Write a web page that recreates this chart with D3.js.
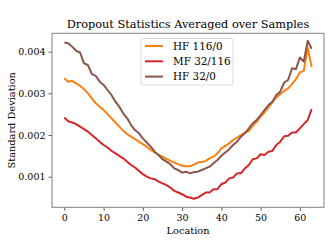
<!DOCTYPE html>
<html><head><meta charset="utf-8">
<script src="https://cdn.jsdelivr.net/npm/d3@7"></script>
<style>html,body{margin:0;padding:0;background:#fff;}svg{display:block;}</style>
</head><body>
<script>
const seriesNames = ["HF 116/0", "MF 32/116", "HF 32/0"];
const seriesColors = ["#ff7f0e", "#d62728", "#8c564b"];
const hf116 = [0.00336,0.00328,0.0033,0.00324,0.00318,0.0031,0.003,0.00288,0.00276,0.00268,0.0026,0.0025,0.0024,0.0023,0.0022,0.0021,0.00202,0.00196,0.0019,0.00184,0.00178,0.00172,0.00164,0.00158,0.00152,0.00148,0.00143,0.00138,0.00134,0.0013,0.00126,0.00125,0.00125,0.00129,0.00134,0.00135,0.00138,0.00144,0.00148,0.00156,0.00168,0.00174,0.0018,0.00188,0.00194,0.002,0.00206,0.0021,0.00222,0.00232,0.00244,0.00254,0.00266,0.00278,0.0029,0.00298,0.00306,0.00312,0.00322,0.00334,0.0035,0.00354,0.0041,0.00363];
const mf32 = [0.00242,0.00233,0.0023,0.00226,0.0022,0.00214,0.00208,0.002,0.00192,0.00184,0.00176,0.0017,0.00162,0.00156,0.0015,0.00144,0.00136,0.00128,0.00122,0.00114,0.00106,0.001,0.00096,0.00094,0.00088,0.00084,0.0008,0.00074,0.00066,0.00062,0.00058,0.00052,0.0005,0.00047,0.0005,0.00056,0.00062,0.00062,0.0007,0.0007,0.00082,0.00086,0.00096,0.00098,0.00108,0.00108,0.0012,0.00128,0.00142,0.00144,0.00154,0.00152,0.0016,0.00162,0.00176,0.00184,0.00197,0.00198,0.00206,0.00206,0.00216,0.00226,0.00236,0.00262];
const hf32 = [0.00422,0.0042,0.00412,0.00402,0.00398,0.00372,0.00368,0.00346,0.00342,0.00328,0.0032,0.00308,0.00296,0.0028,0.00268,0.00252,0.0024,0.00224,0.00212,0.00204,0.00192,0.00182,0.00172,0.0016,0.00152,0.00142,0.00136,0.0013,0.0012,0.00116,0.0011,0.00112,0.00108,0.00111,0.00112,0.00116,0.0012,0.00124,0.00132,0.0014,0.0015,0.00158,0.00166,0.00176,0.00184,0.00196,0.00204,0.00216,0.00228,0.00236,0.00248,0.0026,0.00272,0.0028,0.00296,0.00304,0.00326,0.00332,0.0036,0.00358,0.00386,0.00376,0.00426,0.00407];
const xTicks = [0,10,20,30,40,50,60];
const yTicks = [0.001,0.002,0.003,0.004];
const titleText = "Dropout Statistics Averaged over Samples";
const xLabel = "Location";
const yLabel = "Standard Deviation";

const W = 332, H = 249;
const m = {l:52, r:324, t:33.3, b:207.3};
const font = "DejaVu Serif";
const svg = d3.select("body").append("svg").attr("width",W).attr("height",H);
const x = d3.scaleLinear().domain([-3.15, 66.15]).range([m.l, m.r]);
const y = d3.scaleLinear().domain([0.000266, 0.00444]).range([m.b, m.t]);

const allSeries = [hf116, mf32, hf32];
const line = d3.line().x((d,i)=>x(i)).y(d=>y(d));
allSeries.forEach((s,k)=>{
  svg.append("path").datum(s).attr("d",line).attr("fill","none")
    .attr("stroke",seriesColors[k]).attr("stroke-width",2).attr("stroke-linejoin","round");
});

const xAxis = svg.append("g").attr("transform",`translate(0,${m.b})`)
  .call(d3.axisBottom(x).tickValues(xTicks).tickSize(3.5).tickPadding(3).tickFormat(d3.format("d")));
const yAxis = svg.append("g").attr("transform",`translate(${m.l},0)`)
  .call(d3.axisLeft(y).tickValues(yTicks).tickSize(3.5).tickPadding(3).tickFormat(d3.format(".3f")));
[xAxis,yAxis].forEach(g=>{
  g.select(".domain").remove();
  g.selectAll("line").attr("stroke","#333").attr("stroke-width",0.8);
  g.selectAll("text").attr("font-family",font).attr("font-size",9.5).attr("fill","#000");
});
svg.append("rect").attr("x",m.l).attr("y",m.t).attr("width",m.r-m.l).attr("height",m.b-m.t)
  .attr("fill","none").attr("stroke","#808080").attr("stroke-width",1);

svg.append("text").attr("x",(m.l+m.r)/2).attr("y",27.5).attr("text-anchor","middle")
  .attr("font-family",font).attr("font-size",11.3).attr("fill","#000").text(titleText);
svg.append("text").attr("x",(m.l+m.r)/2).attr("y",234).attr("text-anchor","middle")
  .attr("font-family",font).attr("font-size",9.8).attr("fill","#000").text(xLabel);
svg.append("text").attr("transform",`translate(15,${(m.t+m.b)/2}) rotate(-90)`).attr("text-anchor","middle")
  .attr("font-family",font).attr("font-size",9.8).attr("fill","#000").text(yLabel);

const lg = svg.append("g");
lg.append("rect").attr("x",141).attr("y",38.5).attr("width",92).attr("height",46.5).attr("rx",2)
  .attr("fill","#fff").attr("fill-opacity",0.8).attr("stroke","#d0d0d0").attr("stroke-width",0.8);
seriesNames.forEach((n,k)=>{
  const yy = 46 + k*15.3;
  lg.append("line").attr("x1",145).attr("x2",163).attr("y1",yy).attr("y2",yy)
    .attr("stroke",seriesColors[k]).attr("stroke-width",2);
  lg.append("text").attr("x",173).attr("y",yy+3.5).attr("font-family",font).attr("font-size",10.4)
    .attr("fill","#000").text(n);
});
</script>
</body></html>
